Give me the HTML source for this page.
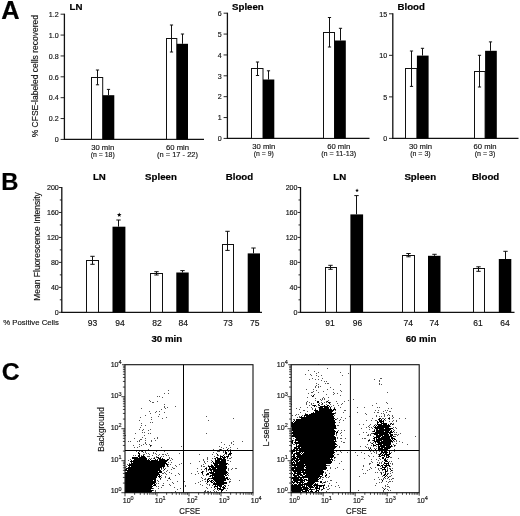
<!DOCTYPE html>
<html><head><meta charset="utf-8"><title>Figure</title>
<style>html,body{margin:0;padding:0;background:#fff;}svg{display:block;will-change:transform;}text{font-family:"Liberation Sans",sans-serif;}</style>
</head><body>
<svg width="520" height="516" viewBox="0 0 520 516">
<rect width="520" height="516" fill="#fff"/>
<text x="1.3" y="19.4" font-size="25.4" text-anchor="start" font-weight="bold" stroke="#000" stroke-width="0.2" fill="#000">A</text>
<text x="1.3" y="189.8" font-size="23.8" text-anchor="start" font-weight="bold" stroke="#000" stroke-width="0.2" fill="#000">B</text>
<text x="1.8" y="379.8" font-size="24.8" text-anchor="start" font-weight="bold" stroke="#000" stroke-width="0.2" fill="#000">C</text>
<line x1="64.4" y1="13.7" x2="64.4" y2="139.9" stroke="#111" stroke-width="1.3"/>
<line x1="63.900000000000006" y1="139.3" x2="204" y2="139.3" stroke="#111" stroke-width="1.3"/>
<line x1="60.60000000000001" y1="14.2" x2="64.4" y2="14.2" stroke="#111" stroke-width="0.9"/>
<text x="58.7" y="16.9" font-size="7.1" text-anchor="end" stroke="#111" stroke-width="0.15" fill="#111">1.2</text>
<line x1="60.60000000000001" y1="35.07" x2="64.4" y2="35.07" stroke="#111" stroke-width="0.9"/>
<text x="58.7" y="37.77" font-size="7.1" text-anchor="end" stroke="#111" stroke-width="0.15" fill="#111">1.0</text>
<line x1="60.60000000000001" y1="55.94" x2="64.4" y2="55.94" stroke="#111" stroke-width="0.9"/>
<text x="58.7" y="58.64" font-size="7.1" text-anchor="end" stroke="#111" stroke-width="0.15" fill="#111">0.8</text>
<line x1="60.60000000000001" y1="76.81" x2="64.4" y2="76.81" stroke="#111" stroke-width="0.9"/>
<text x="58.7" y="79.51" font-size="7.1" text-anchor="end" stroke="#111" stroke-width="0.15" fill="#111">0.6</text>
<line x1="60.60000000000001" y1="97.68" x2="64.4" y2="97.68" stroke="#111" stroke-width="0.9"/>
<text x="58.7" y="100.38000000000001" font-size="7.1" text-anchor="end" stroke="#111" stroke-width="0.15" fill="#111">0.4</text>
<line x1="60.60000000000001" y1="118.55000000000001" x2="64.4" y2="118.55000000000001" stroke="#111" stroke-width="0.9"/>
<text x="58.7" y="121.25000000000001" font-size="7.1" text-anchor="end" stroke="#111" stroke-width="0.15" fill="#111">0.2</text>
<line x1="60.60000000000001" y1="139.42" x2="64.4" y2="139.42" stroke="#111" stroke-width="0.9"/>
<text x="58.7" y="142.11999999999998" font-size="7.1" text-anchor="end" stroke="#111" stroke-width="0.15" fill="#111">0</text>
<text x="69.5" y="9.9" font-size="9.9" text-anchor="start" font-weight="bold" textLength="12.9" lengthAdjust="spacingAndGlyphs" stroke="#000" stroke-width="0.2" fill="#000">LN</text>
<rect x="91.5" y="77.5" width="11.200000000000003" height="61.80000000000001" fill="#fff" stroke="#111" stroke-width="1"/>
<rect x="102.7" y="95.2" width="11.599999999999994" height="44.10000000000001" fill="#000"/>
<line x1="97.5" y1="70" x2="97.5" y2="84.8" stroke="#111" stroke-width="1"/>
<line x1="95.9" y1="70" x2="99.1" y2="70" stroke="#111" stroke-width="1"/>
<line x1="95.9" y1="84.8" x2="99.1" y2="84.8" stroke="#111" stroke-width="1"/>
<line x1="108.5" y1="89.4" x2="108.5" y2="95.2" stroke="#111" stroke-width="1"/>
<line x1="106.9" y1="89.4" x2="110.1" y2="89.4" stroke="#111" stroke-width="1"/>
<rect x="166.5" y="38.5" width="10.300000000000011" height="100.80000000000001" fill="#fff" stroke="#111" stroke-width="1"/>
<rect x="176.8" y="43.8" width="11.199999999999989" height="95.50000000000001" fill="#000"/>
<line x1="171.5" y1="25" x2="171.5" y2="52" stroke="#111" stroke-width="1"/>
<line x1="169.9" y1="25" x2="173.1" y2="25" stroke="#111" stroke-width="1"/>
<line x1="169.9" y1="52" x2="173.1" y2="52" stroke="#111" stroke-width="1"/>
<line x1="182.5" y1="34" x2="182.5" y2="43.8" stroke="#111" stroke-width="1"/>
<line x1="180.9" y1="34" x2="184.1" y2="34" stroke="#111" stroke-width="1"/>
<text x="102.7" y="149.5" font-size="8" text-anchor="middle" textLength="23" lengthAdjust="spacingAndGlyphs" stroke="#111" stroke-width="0.15" fill="#111">30 min</text>
<text x="102.7" y="156.8" font-size="8" text-anchor="middle" textLength="24" lengthAdjust="spacingAndGlyphs" stroke="#111" stroke-width="0.15" fill="#111">(n = 18)</text>
<text x="177.5" y="149.5" font-size="8" text-anchor="middle" textLength="23" lengthAdjust="spacingAndGlyphs" stroke="#111" stroke-width="0.15" fill="#111">60 min</text>
<text x="177.5" y="156.8" font-size="8" text-anchor="middle" textLength="41" lengthAdjust="spacingAndGlyphs" stroke="#111" stroke-width="0.15" fill="#111">(n = 17 - 22)</text>
<line x1="227.4" y1="12.7" x2="227.4" y2="139.0" stroke="#111" stroke-width="1.3"/>
<line x1="226.9" y1="138.4" x2="369.5" y2="138.4" stroke="#111" stroke-width="1.3"/>
<line x1="223.6" y1="13.2" x2="227.4" y2="13.2" stroke="#111" stroke-width="0.9"/>
<text x="221.70000000000002" y="15.899999999999999" font-size="7.1" text-anchor="end" stroke="#111" stroke-width="0.15" fill="#111">6</text>
<line x1="223.6" y1="34.07" x2="227.4" y2="34.07" stroke="#111" stroke-width="0.9"/>
<text x="221.70000000000002" y="36.77" font-size="7.1" text-anchor="end" stroke="#111" stroke-width="0.15" fill="#111">5</text>
<line x1="223.6" y1="54.94" x2="227.4" y2="54.94" stroke="#111" stroke-width="0.9"/>
<text x="221.70000000000002" y="57.64" font-size="7.1" text-anchor="end" stroke="#111" stroke-width="0.15" fill="#111">4</text>
<line x1="223.6" y1="75.81" x2="227.4" y2="75.81" stroke="#111" stroke-width="0.9"/>
<text x="221.70000000000002" y="78.51" font-size="7.1" text-anchor="end" stroke="#111" stroke-width="0.15" fill="#111">3</text>
<line x1="223.6" y1="96.68" x2="227.4" y2="96.68" stroke="#111" stroke-width="0.9"/>
<text x="221.70000000000002" y="99.38000000000001" font-size="7.1" text-anchor="end" stroke="#111" stroke-width="0.15" fill="#111">2</text>
<line x1="223.6" y1="117.55000000000001" x2="227.4" y2="117.55000000000001" stroke="#111" stroke-width="0.9"/>
<text x="221.70000000000002" y="120.25000000000001" font-size="7.1" text-anchor="end" stroke="#111" stroke-width="0.15" fill="#111">1</text>
<line x1="223.6" y1="138.42" x2="227.4" y2="138.42" stroke="#111" stroke-width="0.9"/>
<text x="221.70000000000002" y="141.11999999999998" font-size="7.1" text-anchor="end" stroke="#111" stroke-width="0.15" fill="#111">0</text>
<text x="232" y="9.9" font-size="9.9" text-anchor="start" font-weight="bold" textLength="31.8" lengthAdjust="spacingAndGlyphs" stroke="#000" stroke-width="0.2" fill="#000">Spleen</text>
<rect x="251.5" y="68.5" width="11.5" height="69.9" fill="#fff" stroke="#111" stroke-width="1"/>
<rect x="263" y="79.5" width="11.300000000000011" height="58.900000000000006" fill="#000"/>
<line x1="257.5" y1="62" x2="257.5" y2="75.5" stroke="#111" stroke-width="1"/>
<line x1="255.9" y1="62" x2="259.1" y2="62" stroke="#111" stroke-width="1"/>
<line x1="255.9" y1="75.5" x2="259.1" y2="75.5" stroke="#111" stroke-width="1"/>
<line x1="268.5" y1="70.8" x2="268.5" y2="79.5" stroke="#111" stroke-width="1"/>
<line x1="266.9" y1="70.8" x2="270.1" y2="70.8" stroke="#111" stroke-width="1"/>
<rect x="323.5" y="32.5" width="11.0" height="105.9" fill="#fff" stroke="#111" stroke-width="1"/>
<rect x="334.5" y="40.5" width="11.300000000000011" height="97.9" fill="#000"/>
<line x1="329.5" y1="17.5" x2="329.5" y2="47" stroke="#111" stroke-width="1"/>
<line x1="327.9" y1="17.5" x2="331.1" y2="17.5" stroke="#111" stroke-width="1"/>
<line x1="327.9" y1="47" x2="331.1" y2="47" stroke="#111" stroke-width="1"/>
<line x1="340.5" y1="28.3" x2="340.5" y2="40.5" stroke="#111" stroke-width="1"/>
<line x1="338.9" y1="28.3" x2="342.1" y2="28.3" stroke="#111" stroke-width="1"/>
<text x="263.8" y="148.6" font-size="8" text-anchor="middle" textLength="23" lengthAdjust="spacingAndGlyphs" stroke="#111" stroke-width="0.15" fill="#111">30 min</text>
<text x="263.8" y="155.9" font-size="8" text-anchor="middle" textLength="20" lengthAdjust="spacingAndGlyphs" stroke="#111" stroke-width="0.15" fill="#111">(n = 9)</text>
<text x="338.7" y="148.6" font-size="8" text-anchor="middle" textLength="23" lengthAdjust="spacingAndGlyphs" stroke="#111" stroke-width="0.15" fill="#111">60 min</text>
<text x="338.7" y="155.9" font-size="8" text-anchor="middle" textLength="35" lengthAdjust="spacingAndGlyphs" stroke="#111" stroke-width="0.15" fill="#111">(n = 11-13)</text>
<line x1="392.8" y1="13.3" x2="392.8" y2="139.0" stroke="#111" stroke-width="1.3"/>
<line x1="392.3" y1="138.4" x2="518.5" y2="138.4" stroke="#111" stroke-width="1.3"/>
<line x1="389.0" y1="13.8" x2="392.8" y2="13.8" stroke="#111" stroke-width="0.9"/>
<text x="387.1" y="16.5" font-size="7.1" text-anchor="end" stroke="#111" stroke-width="0.15" fill="#111">15</text>
<line x1="389.0" y1="55.33" x2="392.8" y2="55.33" stroke="#111" stroke-width="0.9"/>
<text x="387.1" y="58.03" font-size="7.1" text-anchor="end" stroke="#111" stroke-width="0.15" fill="#111">10</text>
<line x1="389.0" y1="96.86" x2="392.8" y2="96.86" stroke="#111" stroke-width="0.9"/>
<text x="387.1" y="99.56" font-size="7.1" text-anchor="end" stroke="#111" stroke-width="0.15" fill="#111">5</text>
<line x1="389.0" y1="138.39000000000001" x2="392.8" y2="138.39000000000001" stroke="#111" stroke-width="0.9"/>
<text x="387.1" y="141.09" font-size="7.1" text-anchor="end" stroke="#111" stroke-width="0.15" fill="#111">0</text>
<text x="397.5" y="9.9" font-size="9.9" text-anchor="start" font-weight="bold" textLength="27.4" lengthAdjust="spacingAndGlyphs" stroke="#000" stroke-width="0.2" fill="#000">Blood</text>
<rect x="405.5" y="68.5" width="11.399999999999977" height="69.9" fill="#fff" stroke="#111" stroke-width="1"/>
<rect x="416.9" y="55.6" width="11.700000000000045" height="82.80000000000001" fill="#000"/>
<line x1="411.5" y1="51" x2="411.5" y2="86.4" stroke="#111" stroke-width="1"/>
<line x1="409.9" y1="51" x2="413.1" y2="51" stroke="#111" stroke-width="1"/>
<line x1="409.9" y1="86.4" x2="413.1" y2="86.4" stroke="#111" stroke-width="1"/>
<line x1="422.5" y1="48.3" x2="422.5" y2="55.6" stroke="#111" stroke-width="1"/>
<line x1="420.9" y1="48.3" x2="424.1" y2="48.3" stroke="#111" stroke-width="1"/>
<rect x="474.5" y="71.5" width="10.600000000000023" height="66.9" fill="#fff" stroke="#111" stroke-width="1"/>
<rect x="485.1" y="50.8" width="11.699999999999989" height="87.60000000000001" fill="#000"/>
<line x1="479.5" y1="55.3" x2="479.5" y2="87" stroke="#111" stroke-width="1"/>
<line x1="477.9" y1="55.3" x2="481.1" y2="55.3" stroke="#111" stroke-width="1"/>
<line x1="477.9" y1="87" x2="481.1" y2="87" stroke="#111" stroke-width="1"/>
<line x1="490.5" y1="41.9" x2="490.5" y2="50.8" stroke="#111" stroke-width="1"/>
<line x1="488.9" y1="41.9" x2="492.1" y2="41.9" stroke="#111" stroke-width="1"/>
<text x="420.4" y="148.6" font-size="8" text-anchor="middle" textLength="23" lengthAdjust="spacingAndGlyphs" stroke="#111" stroke-width="0.15" fill="#111">30 min</text>
<text x="420.4" y="155.9" font-size="8" text-anchor="middle" textLength="20.5" lengthAdjust="spacingAndGlyphs" stroke="#111" stroke-width="0.15" fill="#111">(n = 3)</text>
<text x="485" y="148.6" font-size="8" text-anchor="middle" textLength="23" lengthAdjust="spacingAndGlyphs" stroke="#111" stroke-width="0.15" fill="#111">60 min</text>
<text x="485" y="155.9" font-size="8" text-anchor="middle" textLength="20.5" lengthAdjust="spacingAndGlyphs" stroke="#111" stroke-width="0.15" fill="#111">(n = 3)</text>
<text x="38.5" y="76.2" font-size="8.6" text-anchor="middle" textLength="122.3" lengthAdjust="spacingAndGlyphs" transform="rotate(-90 38.5 76.2)" stroke="#111" stroke-width="0.15" fill="#111">% CFSE-labeled cells recovered</text>
<line x1="61.8" y1="187" x2="61.8" y2="312.90000000000003" stroke="#111" stroke-width="1.3"/>
<line x1="61.3" y1="312.3" x2="262" y2="312.3" stroke="#111" stroke-width="1.3"/>
<line x1="59.0" y1="187.5" x2="61.8" y2="187.5" stroke="#111" stroke-width="0.9"/>
<text x="58.8" y="190.1" font-size="7.1" text-anchor="end" stroke="#111" stroke-width="0.15" fill="#111">200</text>
<line x1="59.8" y1="199.98" x2="61.8" y2="199.98" stroke="#111" stroke-width="0.9"/>
<line x1="59.0" y1="212.46" x2="61.8" y2="212.46" stroke="#111" stroke-width="0.9"/>
<text x="58.8" y="215.06" font-size="7.1" text-anchor="end" stroke="#111" stroke-width="0.15" fill="#111">160</text>
<line x1="59.8" y1="224.94" x2="61.8" y2="224.94" stroke="#111" stroke-width="0.9"/>
<line x1="59.0" y1="237.42000000000002" x2="61.8" y2="237.42000000000002" stroke="#111" stroke-width="0.9"/>
<text x="58.8" y="240.02" font-size="7.1" text-anchor="end" stroke="#111" stroke-width="0.15" fill="#111">120</text>
<line x1="59.8" y1="249.9" x2="61.8" y2="249.9" stroke="#111" stroke-width="0.9"/>
<line x1="59.0" y1="262.38" x2="61.8" y2="262.38" stroke="#111" stroke-width="0.9"/>
<text x="58.8" y="264.98" font-size="7.1" text-anchor="end" stroke="#111" stroke-width="0.15" fill="#111">80</text>
<line x1="59.8" y1="274.86" x2="61.8" y2="274.86" stroke="#111" stroke-width="0.9"/>
<line x1="59.0" y1="287.34000000000003" x2="61.8" y2="287.34000000000003" stroke="#111" stroke-width="0.9"/>
<text x="58.8" y="289.94000000000005" font-size="7.1" text-anchor="end" stroke="#111" stroke-width="0.15" fill="#111">40</text>
<line x1="59.8" y1="299.82000000000005" x2="61.8" y2="299.82000000000005" stroke="#111" stroke-width="0.9"/>
<line x1="59.0" y1="312.3" x2="61.8" y2="312.3" stroke="#111" stroke-width="0.9"/>
<text x="58.8" y="314.90000000000003" font-size="7.1" text-anchor="end" stroke="#111" stroke-width="0.15" fill="#111">0</text>
<text x="99.4" y="180.3" font-size="9.9" text-anchor="middle" font-weight="bold" textLength="12.9" lengthAdjust="spacingAndGlyphs" stroke="#000" stroke-width="0.2" fill="#000">LN</text>
<text x="161" y="180.3" font-size="9.9" text-anchor="middle" font-weight="bold" textLength="31.8" lengthAdjust="spacingAndGlyphs" stroke="#000" stroke-width="0.2" fill="#000">Spleen</text>
<text x="239.5" y="180.3" font-size="9.9" text-anchor="middle" font-weight="bold" textLength="27.4" lengthAdjust="spacingAndGlyphs" stroke="#000" stroke-width="0.2" fill="#000">Blood</text>
<rect x="86.5" y="260.5" width="12.0" height="51.80000000000001" fill="#fff" stroke="#111" stroke-width="1"/>
<line x1="92.5" y1="256.3" x2="92.5" y2="264.3" stroke="#111" stroke-width="1"/>
<line x1="90.3" y1="256.3" x2="94.7" y2="256.3" stroke="#111" stroke-width="1"/>
<line x1="90.3" y1="264.3" x2="94.7" y2="264.3" stroke="#111" stroke-width="1"/>
<rect x="112.5" y="226.7" width="12.900000000000006" height="85.60000000000002" fill="#000"/>
<line x1="118.5" y1="220" x2="118.5" y2="226.7" stroke="#111" stroke-width="1"/>
<line x1="116.3" y1="220" x2="120.7" y2="220" stroke="#111" stroke-width="1"/>
<polygon points="119.25,212.50 119.84,214.08 121.53,214.16 120.21,215.21 120.66,216.84 119.25,215.91 117.84,216.84 118.29,215.21 116.97,214.16 118.66,214.08" fill="#000"/>
<rect x="150.5" y="273.5" width="12.0" height="38.80000000000001" fill="#fff" stroke="#111" stroke-width="1"/>
<line x1="156.5" y1="271.7" x2="156.5" y2="275" stroke="#111" stroke-width="1"/>
<line x1="154.3" y1="271.7" x2="158.7" y2="271.7" stroke="#111" stroke-width="1"/>
<line x1="154.3" y1="275" x2="158.7" y2="275" stroke="#111" stroke-width="1"/>
<rect x="176.3" y="272.5" width="12.399999999999977" height="39.80000000000001" fill="#000"/>
<line x1="182.5" y1="270.6" x2="182.5" y2="272.5" stroke="#111" stroke-width="1"/>
<line x1="180.3" y1="270.6" x2="184.7" y2="270.6" stroke="#111" stroke-width="1"/>
<rect x="222.5" y="244.5" width="11.0" height="67.80000000000001" fill="#fff" stroke="#111" stroke-width="1"/>
<line x1="227.5" y1="231.3" x2="227.5" y2="250.4" stroke="#111" stroke-width="1"/>
<line x1="225.3" y1="231.3" x2="229.7" y2="231.3" stroke="#111" stroke-width="1"/>
<line x1="225.3" y1="250.4" x2="229.7" y2="250.4" stroke="#111" stroke-width="1"/>
<rect x="247.7" y="253.4" width="12.300000000000011" height="58.900000000000006" fill="#000"/>
<line x1="253.5" y1="248" x2="253.5" y2="253.4" stroke="#111" stroke-width="1"/>
<line x1="251.3" y1="248" x2="255.7" y2="248" stroke="#111" stroke-width="1"/>
<text x="92.5" y="326.1" font-size="8.5" text-anchor="middle" stroke="#111" stroke-width="0.15" fill="#111">93</text>
<text x="120" y="326.1" font-size="8.5" text-anchor="middle" stroke="#111" stroke-width="0.15" fill="#111">94</text>
<text x="157" y="326.1" font-size="8.5" text-anchor="middle" stroke="#111" stroke-width="0.15" fill="#111">82</text>
<text x="183.3" y="326.1" font-size="8.5" text-anchor="middle" stroke="#111" stroke-width="0.15" fill="#111">84</text>
<text x="228" y="326.1" font-size="8.5" text-anchor="middle" stroke="#111" stroke-width="0.15" fill="#111">73</text>
<text x="254.7" y="326.1" font-size="8.5" text-anchor="middle" stroke="#111" stroke-width="0.15" fill="#111">75</text>
<text x="166.8" y="342.1" font-size="9.7" text-anchor="middle" font-weight="bold" stroke="#000" stroke-width="0.2" fill="#000">30 min</text>
<line x1="300.5" y1="187" x2="300.5" y2="312.90000000000003" stroke="#111" stroke-width="1.3"/>
<line x1="300.0" y1="312.3" x2="514.5" y2="312.3" stroke="#111" stroke-width="1.3"/>
<line x1="297.7" y1="187.5" x2="300.5" y2="187.5" stroke="#111" stroke-width="0.9"/>
<text x="297.5" y="190.1" font-size="7.1" text-anchor="end" stroke="#111" stroke-width="0.15" fill="#111">200</text>
<line x1="298.5" y1="199.98" x2="300.5" y2="199.98" stroke="#111" stroke-width="0.9"/>
<line x1="297.7" y1="212.46" x2="300.5" y2="212.46" stroke="#111" stroke-width="0.9"/>
<text x="297.5" y="215.06" font-size="7.1" text-anchor="end" stroke="#111" stroke-width="0.15" fill="#111">160</text>
<line x1="298.5" y1="224.94" x2="300.5" y2="224.94" stroke="#111" stroke-width="0.9"/>
<line x1="297.7" y1="237.42000000000002" x2="300.5" y2="237.42000000000002" stroke="#111" stroke-width="0.9"/>
<text x="297.5" y="240.02" font-size="7.1" text-anchor="end" stroke="#111" stroke-width="0.15" fill="#111">120</text>
<line x1="298.5" y1="249.9" x2="300.5" y2="249.9" stroke="#111" stroke-width="0.9"/>
<line x1="297.7" y1="262.38" x2="300.5" y2="262.38" stroke="#111" stroke-width="0.9"/>
<text x="297.5" y="264.98" font-size="7.1" text-anchor="end" stroke="#111" stroke-width="0.15" fill="#111">80</text>
<line x1="298.5" y1="274.86" x2="300.5" y2="274.86" stroke="#111" stroke-width="0.9"/>
<line x1="297.7" y1="287.34000000000003" x2="300.5" y2="287.34000000000003" stroke="#111" stroke-width="0.9"/>
<text x="297.5" y="289.94000000000005" font-size="7.1" text-anchor="end" stroke="#111" stroke-width="0.15" fill="#111">40</text>
<line x1="298.5" y1="299.82000000000005" x2="300.5" y2="299.82000000000005" stroke="#111" stroke-width="0.9"/>
<line x1="297.7" y1="312.3" x2="300.5" y2="312.3" stroke="#111" stroke-width="0.9"/>
<text x="297.5" y="314.90000000000003" font-size="7.1" text-anchor="end" stroke="#111" stroke-width="0.15" fill="#111">0</text>
<text x="339.8" y="180.3" font-size="9.9" text-anchor="middle" font-weight="bold" textLength="12.9" lengthAdjust="spacingAndGlyphs" stroke="#000" stroke-width="0.2" fill="#000">LN</text>
<text x="420.3" y="180.3" font-size="9.9" text-anchor="middle" font-weight="bold" textLength="31.8" lengthAdjust="spacingAndGlyphs" stroke="#000" stroke-width="0.2" fill="#000">Spleen</text>
<text x="485.6" y="180.3" font-size="9.9" text-anchor="middle" font-weight="bold" textLength="27.4" lengthAdjust="spacingAndGlyphs" stroke="#000" stroke-width="0.2" fill="#000">Blood</text>
<rect x="325.5" y="267.5" width="11.0" height="44.80000000000001" fill="#fff" stroke="#111" stroke-width="1"/>
<line x1="330.5" y1="265.3" x2="330.5" y2="269.3" stroke="#111" stroke-width="1"/>
<line x1="328.3" y1="265.3" x2="332.7" y2="265.3" stroke="#111" stroke-width="1"/>
<line x1="328.3" y1="269.3" x2="332.7" y2="269.3" stroke="#111" stroke-width="1"/>
<rect x="350.4" y="214.4" width="12.700000000000045" height="97.9" fill="#000"/>
<line x1="356.5" y1="195.6" x2="356.5" y2="214.4" stroke="#111" stroke-width="1"/>
<line x1="354.3" y1="195.6" x2="358.7" y2="195.6" stroke="#111" stroke-width="1"/>
<polygon points="357.05,188.60 357.52,189.85 358.86,189.91 357.81,190.75 358.17,192.04 357.05,191.30 355.93,192.04 356.29,190.75 355.24,189.91 356.58,189.85" fill="#000"/>
<rect x="402.5" y="255.5" width="12.0" height="56.80000000000001" fill="#fff" stroke="#111" stroke-width="1"/>
<line x1="408.5" y1="253.5" x2="408.5" y2="256.8" stroke="#111" stroke-width="1"/>
<line x1="406.3" y1="253.5" x2="410.7" y2="253.5" stroke="#111" stroke-width="1"/>
<line x1="406.3" y1="256.8" x2="410.7" y2="256.8" stroke="#111" stroke-width="1"/>
<rect x="428" y="255.8" width="12.5" height="56.5" fill="#000"/>
<line x1="434.5" y1="254.3" x2="434.5" y2="255.8" stroke="#111" stroke-width="1"/>
<line x1="432.3" y1="254.3" x2="436.7" y2="254.3" stroke="#111" stroke-width="1"/>
<rect x="473.5" y="268.5" width="11.0" height="43.80000000000001" fill="#fff" stroke="#111" stroke-width="1"/>
<line x1="478.5" y1="266.8" x2="478.5" y2="271.3" stroke="#111" stroke-width="1"/>
<line x1="476.3" y1="266.8" x2="480.7" y2="266.8" stroke="#111" stroke-width="1"/>
<line x1="476.3" y1="271.3" x2="480.7" y2="271.3" stroke="#111" stroke-width="1"/>
<rect x="498.8" y="259" width="12.5" height="53.30000000000001" fill="#000"/>
<line x1="505.5" y1="251.3" x2="505.5" y2="259" stroke="#111" stroke-width="1"/>
<line x1="503.3" y1="251.3" x2="507.7" y2="251.3" stroke="#111" stroke-width="1"/>
<text x="330" y="326.1" font-size="8.5" text-anchor="middle" stroke="#111" stroke-width="0.15" fill="#111">91</text>
<text x="357.5" y="326.1" font-size="8.5" text-anchor="middle" stroke="#111" stroke-width="0.15" fill="#111">96</text>
<text x="408.3" y="326.1" font-size="8.5" text-anchor="middle" stroke="#111" stroke-width="0.15" fill="#111">74</text>
<text x="434.3" y="326.1" font-size="8.5" text-anchor="middle" stroke="#111" stroke-width="0.15" fill="#111">74</text>
<text x="478" y="326.1" font-size="8.5" text-anchor="middle" stroke="#111" stroke-width="0.15" fill="#111">61</text>
<text x="505" y="326.1" font-size="8.5" text-anchor="middle" stroke="#111" stroke-width="0.15" fill="#111">64</text>
<text x="421" y="342.1" font-size="9.7" text-anchor="middle" font-weight="bold" stroke="#000" stroke-width="0.2" fill="#000">60 min</text>
<text x="40.2" y="246.5" font-size="8.6" text-anchor="middle" textLength="108.5" lengthAdjust="spacingAndGlyphs" transform="rotate(-90 40.2 246.5)" stroke="#111" stroke-width="0.15" fill="#111">Mean Fluorescence Intensity</text>
<text x="3.3" y="325.0" font-size="8.1" text-anchor="start" textLength="55.6" lengthAdjust="spacingAndGlyphs" stroke="#111" stroke-width="0.15" fill="#111">% Positive Cells</text>
<path d="M167.5 390.7h1M163.5 393.7h1M167.5 393.7h1M156.5 396.7h1M158.5 396.7h1M161.5 397.7h1M148.5 400.7h1M149.5 401.7h1M156.5 401.7h1M151.5 402.7h2M163.5 404.7h1M163.5 406.7h1M174.5 406.7h1M163.5 407.7h1M166.5 407.7h1M140.5 408.7h1M164.5 408.7h1M160.5 409.7h1M148.5 411.7h1M155.5 411.7h1M158.5 411.7h1M154.5 412.7h1M163.5 412.7h1M149.5 413.7h1M158.5 414.7h1M144.5 415.7h1M157.5 416.7h1M205.5 416.7h1M139.5 417.7h1M150.5 417.7h1M165.5 417.7h1M161.5 418.7h1M232.5 418.7h1M150.5 419.7h1M138.5 420.7h1M207.5 420.7h1M149.5 422.7h1M151.5 422.7h1M140.5 423.7h1M140.5 425.7h1M144.5 425.7h1M139.5 427.7h1M138.5 429.7h1M142.5 429.7h1M149.5 429.7h1M141.5 430.7h1M147.5 430.7h1M141.5 432.7h1M143.5 432.7h1M134.5 433.7h1M147.5 433.7h1M149.5 433.7h1M205.5 433.7h1M124.5 435.7h1M143.5 435.7h1M141.5 437.7h1M156.5 437.7h1M133.5 438.7h1M144.5 438.7h1M153.5 438.7h1M156.5 438.7h1M139.5 439.7h2M138.5 440.7h1M144.5 440.7h1M150.5 440.7h1M154.5 440.7h1M127.5 441.7h1M129.5 441.7h1M136.5 441.7h1M138.5 441.7h1M150.5 441.7h1M232.5 441.7h1M241.5 441.7h1M144.5 442.7h1M220.5 442.7h1M230.5 442.7h1M144.5 443.7h1M230.5 443.7h1M138.5 444.7h1M142.5 444.7h1M145.5 444.7h1M148.5 444.7h1M223.5 444.7h1M232.5 444.7h1M132.5 445.7h1M140.5 445.7h1M150.5 445.7h1M228.5 445.7h1M138.5 446.7h1M149.5 446.7h1M180.5 446.7h1M218.5 446.7h1M133.5 447.7h1M136.5 447.7h1M160.5 447.7h1M220.5 447.7h1M225.5 447.7h1M229.5 447.7h1M222.5 448.7h1M227.5 448.7h1M236.5 448.7h1M147.5 449.7h1M212.5 449.7h1M218.5 449.7h1M220.5 449.7h1M229.5 449.7h1M134.5 450.7h1M142.5 450.7h1M199.5 450.7h1M232.5 450.7h1M135.5 451.7h1M138.5 451.7h1M140.5 451.7h1M144.5 451.7h1M155.5 451.7h1M163.5 451.7h1M216.5 451.7h3M222.5 451.7h1M227.5 451.7h1M142.5 452.7h1M144.5 452.7h1M152.5 452.7h1M212.5 452.7h1M222.5 452.7h1M145.5 453.7h1M147.5 453.7h1M152.5 453.7h1M154.5 453.7h1M166.5 453.7h1M178.5 453.7h1M215.5 453.7h1M142.5 454.7h2M148.5 454.7h1M155.5 454.7h1M158.5 454.7h1M161.5 454.7h2M164.5 454.7h1M198.5 454.7h1M211.5 454.7h1M223.5 454.7h1M225.5 454.7h1M132.5 455.7h1M134.5 455.7h1M140.5 455.7h1M151.5 455.7h1M157.5 455.7h1M165.5 455.7h1M167.5 455.7h1M216.5 455.7h2M219.5 455.7h1M229.5 455.7h1M146.5 456.7h3M155.5 456.7h1M160.5 456.7h1M162.5 456.7h1M213.5 456.7h1M153.5 457.7h1M155.5 457.7h1M168.5 457.7h1M206.5 457.7h1M230.5 457.7h1M148.5 458.7h1M150.5 458.7h1M152.5 458.7h1M168.5 458.7h1M170.5 458.7h1M206.5 458.7h1M211.5 458.7h1M213.5 458.7h1M226.5 458.7h1M228.5 458.7h2M129.5 459.7h1M171.5 459.7h1M202.5 459.7h1M206.5 459.7h1M127.5 460.7h1M169.5 460.7h1M202.5 460.7h1M210.5 460.7h1M226.5 460.7h2M198.5 461.7h1M203.5 461.7h1M206.5 461.7h1M229.5 461.7h1M167.5 462.7h1M170.5 462.7h1M203.5 462.7h1M210.5 462.7h1M128.5 463.7h1M180.5 463.7h1M189.5 463.7h1M204.5 463.7h1M126.5 464.7h1M167.5 464.7h1M169.5 464.7h1M178.5 464.7h1M202.5 464.7h1M210.5 464.7h1M227.5 464.7h1M174.5 465.7h1M200.5 465.7h1M207.5 465.7h1M125.5 466.7h1M166.5 466.7h2M175.5 466.7h1M200.5 466.7h1M202.5 466.7h2M124.5 467.7h1M171.5 467.7h1M205.5 467.7h1M162.5 468.7h1M164.5 468.7h1M172.5 468.7h2M196.5 468.7h1M227.5 468.7h1M231.5 468.7h1M234.5 468.7h2M160.5 469.7h1M170.5 469.7h1M200.5 469.7h1M203.5 469.7h1M227.5 469.7h1M230.5 469.7h1M162.5 470.7h1M166.5 470.7h1M205.5 470.7h1M207.5 470.7h1M227.5 470.7h1M165.5 471.7h1M196.5 471.7h1M202.5 471.7h1M205.5 471.7h1M163.5 472.7h1M168.5 472.7h1M161.5 473.7h2M164.5 473.7h1M170.5 473.7h1M177.5 473.7h1M190.5 473.7h1M197.5 473.7h1M227.5 473.7h1M165.5 474.7h1M178.5 474.7h1M194.5 474.7h1M201.5 474.7h1M160.5 475.7h1M174.5 475.7h1M202.5 475.7h1M205.5 475.7h1M227.5 475.7h1M164.5 476.7h1M208.5 476.7h1M160.5 477.7h1M164.5 477.7h1M168.5 477.7h1M200.5 477.7h1M167.5 478.7h1M201.5 478.7h1M204.5 478.7h1M209.5 478.7h1M228.5 478.7h1M159.5 479.7h1M169.5 479.7h1M203.5 479.7h2M229.5 479.7h1M156.5 480.7h1M166.5 480.7h1M201.5 480.7h1M238.5 480.7h1M157.5 481.7h1M176.5 481.7h1M183.5 481.7h1M199.5 481.7h1M204.5 481.7h1M228.5 481.7h2M171.5 482.7h1M197.5 482.7h1M228.5 482.7h1M155.5 483.7h1M157.5 483.7h1M162.5 483.7h1M172.5 483.7h1M194.5 483.7h1M205.5 483.7h1M168.5 484.7h1M199.5 484.7h1M206.5 484.7h1M208.5 484.7h1M161.5 485.7h2M169.5 485.7h1M184.5 485.7h1M201.5 485.7h1M208.5 485.7h1M211.5 485.7h1M224.5 485.7h1M227.5 485.7h1M155.5 486.7h1M157.5 486.7h1M184.5 486.7h1M160.5 487.7h1M173.5 487.7h1M205.5 487.7h1M210.5 487.7h1M152.5 488.7h1M157.5 488.7h1M179.5 488.7h1M206.5 488.7h1M214.5 488.7h1M224.5 488.7h1M226.5 488.7h1M176.5 489.7h1M213.5 489.7h1M152.5 490.7h1M154.5 490.7h1M204.5 490.7h1M212.5 490.7h1M217.5 490.7h1M225.5 490.7h1M154.5 491.7h1M174.5 491.7h1M203.5 491.7h2M206.5 491.7h2M209.5 491.7h1M213.5 491.7h1M215.5 491.7h1M157.5 492.7h1M170.5 492.7h1M210.5 492.7h1M216.5 492.7h1M220.5 492.7h1M223.5 492.7h1" stroke="#555" stroke-width="1" fill="none" shape-rendering="crispEdges"/>
<path d="M149.5 445.7h1M219.5 449.7h1M226.5 449.7h1M219.5 450.7h1M225.5 450.7h2M228.5 450.7h2M141.5 451.7h1M224.5 451.7h1M229.5 451.7h1M137.5 452.7h1M224.5 452.7h2M229.5 452.7h1M137.5 453.7h2M224.5 453.7h2M228.5 453.7h3M138.5 454.7h1M216.5 454.7h1M227.5 454.7h3M137.5 455.7h2M142.5 455.7h1M222.5 455.7h1M227.5 455.7h1M137.5 456.7h2M140.5 456.7h4M219.5 456.7h3M223.5 456.7h1M225.5 456.7h3M131.5 457.7h6M138.5 457.7h7M156.5 457.7h2M159.5 457.7h1M215.5 457.7h2M219.5 457.7h1M221.5 457.7h4M226.5 457.7h1M131.5 458.7h15M153.5 458.7h1M157.5 458.7h3M161.5 458.7h1M214.5 458.7h1M216.5 458.7h5M222.5 458.7h2M133.5 459.7h13M147.5 459.7h1M149.5 459.7h1M154.5 459.7h1M156.5 459.7h1M158.5 459.7h6M166.5 459.7h2M214.5 459.7h1M216.5 459.7h9M130.5 460.7h1M132.5 460.7h17M150.5 460.7h7M158.5 460.7h9M214.5 460.7h5M220.5 460.7h5M129.5 461.7h37M211.5 461.7h1M214.5 461.7h11M130.5 462.7h1M132.5 462.7h33M212.5 462.7h1M214.5 462.7h11M130.5 463.7h36M212.5 463.7h15M128.5 464.7h36M165.5 464.7h2M213.5 464.7h4M218.5 464.7h8M127.5 465.7h37M166.5 465.7h1M210.5 465.7h2M213.5 465.7h12M128.5 466.7h1M130.5 466.7h34M207.5 466.7h6M214.5 466.7h12M127.5 467.7h34M162.5 467.7h1M208.5 467.7h1M210.5 467.7h16M125.5 468.7h34M160.5 468.7h1M204.5 468.7h2M208.5 468.7h2M211.5 468.7h4M216.5 468.7h10M124.5 469.7h2M127.5 469.7h32M163.5 469.7h1M205.5 469.7h1M207.5 469.7h18M124.5 470.7h36M209.5 470.7h2M212.5 470.7h13M126.5 471.7h31M158.5 471.7h3M201.5 471.7h1M210.5 471.7h1M212.5 471.7h14M124.5 472.7h37M200.5 472.7h2M208.5 472.7h5M214.5 472.7h13M124.5 473.7h34M201.5 473.7h1M206.5 473.7h2M209.5 473.7h17M124.5 474.7h35M205.5 474.7h3M211.5 474.7h14M226.5 474.7h1M124.5 475.7h33M158.5 475.7h1M209.5 475.7h14M224.5 475.7h2M124.5 476.7h32M157.5 476.7h3M209.5 476.7h1M211.5 476.7h1M213.5 476.7h11M124.5 477.7h32M158.5 477.7h1M211.5 477.7h13M225.5 477.7h2M124.5 478.7h31M159.5 478.7h1M168.5 478.7h1M207.5 478.7h2M210.5 478.7h17M124.5 479.7h31M206.5 479.7h2M212.5 479.7h13M226.5 479.7h2M124.5 480.7h28M153.5 480.7h2M206.5 480.7h1M208.5 480.7h1M210.5 480.7h2M213.5 480.7h12M124.5 481.7h31M206.5 481.7h2M209.5 481.7h2M212.5 481.7h1M214.5 481.7h9M124.5 482.7h31M206.5 482.7h1M210.5 482.7h2M213.5 482.7h1M215.5 482.7h11M124.5 483.7h30M212.5 483.7h14M124.5 484.7h28M153.5 484.7h2M212.5 484.7h11M124.5 485.7h27M152.5 485.7h3M214.5 485.7h1M216.5 485.7h5M223.5 485.7h1M124.5 486.7h28M213.5 486.7h4M218.5 486.7h3M222.5 486.7h1M224.5 486.7h1M124.5 487.7h27M213.5 487.7h1M216.5 487.7h1M219.5 487.7h1M221.5 487.7h3M124.5 488.7h28M216.5 488.7h4M222.5 488.7h2M124.5 489.7h26M216.5 489.7h1M218.5 489.7h5M124.5 490.7h28M220.5 490.7h2M124.5 491.7h27M220.5 491.7h1M124.5 492.7h26" stroke="#000" stroke-width="1" fill="none" shape-rendering="crispEdges"/>
<path d="M317.7 364.7h1M326.7 368.7h1M307.7 370.7h1M313.7 371.7h1M317.7 372.7h1M339.7 372.7h1M315.7 373.7h1M347.7 373.7h1M304.7 374.7h1M309.7 374.7h1M310.7 375.7h1M315.7 375.7h1M320.7 375.7h1M341.7 375.7h1M317.7 376.7h1M311.7 378.7h1M321.7 378.7h1M379.7 378.7h2M308.7 379.7h1M314.7 379.7h1M317.7 379.7h1M373.7 379.7h1M320.7 380.7h1M378.7 380.7h1M323.7 381.7h1M325.7 381.7h1M378.7 381.7h1M315.7 383.7h1M324.7 383.7h1M326.7 383.7h2M378.7 383.7h1M317.7 384.7h1M339.7 384.7h1M378.7 384.7h1M380.7 384.7h1M315.7 385.7h1M314.7 386.7h1M317.7 386.7h1M319.7 386.7h1M314.7 387.7h1M317.7 387.7h1M329.7 387.7h1M305.7 389.7h1M312.7 389.7h1M326.7 389.7h1M332.7 389.7h1M315.7 390.7h1M339.7 390.7h1M312.7 391.7h1M322.7 391.7h1M340.7 391.7h1M310.7 392.7h2M317.7 392.7h1M332.7 392.7h1M386.7 392.7h1M307.7 393.7h1M333.7 393.7h1M336.7 393.7h1M313.7 394.7h1M325.7 394.7h1M332.7 394.7h1M310.7 395.7h1M339.7 395.7h1M312.7 396.7h1M306.7 397.7h1M322.7 397.7h1M327.7 397.7h1M314.7 398.7h1M321.7 398.7h1M323.7 398.7h1M319.7 399.7h1M321.7 399.7h1M323.7 399.7h1M352.7 399.7h1M314.7 400.7h1M320.7 400.7h1M327.7 400.7h1M347.7 400.7h1M306.7 401.7h1M325.7 401.7h1M335.7 401.7h1M343.7 401.7h1M305.7 402.7h1M308.7 402.7h1M320.7 402.7h1M323.7 402.7h1M325.7 402.7h1M329.7 402.7h1M385.7 402.7h1M305.7 403.7h1M310.7 403.7h1M312.7 403.7h1M318.7 403.7h1M336.7 403.7h1M341.7 403.7h1M375.7 403.7h1M386.7 403.7h1M290.7 404.7h1M305.7 404.7h1M310.7 404.7h1M320.7 404.7h2M325.7 404.7h1M329.7 404.7h1M340.7 404.7h1M308.7 405.7h1M311.7 405.7h1M317.7 405.7h1M332.7 405.7h1M337.7 405.7h1M371.7 405.7h1M315.7 406.7h1M330.7 406.7h1M299.7 407.7h1M306.7 407.7h1M310.7 407.7h1M317.7 407.7h1M333.7 407.7h1M339.7 407.7h1M356.7 407.7h1M363.7 407.7h1M376.7 407.7h1M378.7 407.7h1M295.7 408.7h1M311.7 408.7h1M314.7 408.7h1M387.7 408.7h1M390.7 408.7h1M298.7 409.7h1M311.7 409.7h1M302.7 410.7h2M334.7 410.7h1M343.7 410.7h2M374.7 410.7h1M377.7 410.7h1M384.7 410.7h1M386.7 410.7h1M306.7 411.7h1M382.7 411.7h1M388.7 411.7h2M299.7 412.7h1M334.7 412.7h1M342.7 412.7h1M356.7 412.7h1M373.7 412.7h1M376.7 412.7h2M385.7 412.7h1M304.7 413.7h1M334.7 413.7h1M364.7 413.7h1M380.7 413.7h1M382.7 413.7h1M295.7 414.7h1M297.7 414.7h1M365.7 414.7h1M383.7 414.7h1M387.7 414.7h1M291.7 415.7h1M294.7 415.7h1M301.7 415.7h1M333.7 415.7h1M375.7 415.7h1M383.7 415.7h1M386.7 415.7h1M388.7 415.7h1M391.7 415.7h1M298.7 416.7h1M348.7 416.7h1M375.7 416.7h1M378.7 416.7h1M380.7 416.7h1M383.7 416.7h1M391.7 416.7h1M296.7 417.7h1M298.7 417.7h1M340.7 417.7h1M388.7 417.7h1M392.7 417.7h1M336.7 418.7h1M344.7 418.7h1M371.7 418.7h1M381.7 418.7h2M384.7 418.7h1M391.7 418.7h1M398.7 418.7h1M404.7 418.7h1M292.7 419.7h2M335.7 419.7h1M339.7 419.7h1M388.7 419.7h1M338.7 420.7h1M342.7 420.7h1M365.7 420.7h1M370.7 420.7h1M374.7 420.7h2M384.7 420.7h1M392.7 420.7h1M395.7 420.7h1M388.7 421.7h1M391.7 421.7h1M395.7 421.7h1M338.7 422.7h1M389.7 423.7h1M392.7 423.7h1M358.7 424.7h1M362.7 424.7h1M369.7 424.7h1M374.7 424.7h1M392.7 424.7h1M336.7 425.7h2M368.7 425.7h1M367.7 426.7h1M372.7 426.7h1M389.7 426.7h1M365.7 427.7h1M368.7 427.7h1M370.7 427.7h1M392.7 427.7h1M394.7 427.7h1M335.7 428.7h1M360.7 428.7h1M371.7 428.7h1M395.7 428.7h1M368.7 429.7h1M373.7 429.7h1M392.7 429.7h1M337.7 430.7h1M340.7 430.7h1M343.7 430.7h1M393.7 430.7h1M371.7 431.7h1M340.7 432.7h1M362.7 432.7h1M365.7 432.7h1M393.7 432.7h1M395.7 432.7h1M290.7 433.7h1M339.7 433.7h1M370.7 433.7h2M399.7 433.7h1M335.7 434.7h1M358.7 434.7h1M367.7 434.7h1M369.7 434.7h1M393.7 434.7h3M397.7 434.7h1M335.7 435.7h1M340.7 435.7h1M366.7 435.7h2M369.7 435.7h1M396.7 435.7h1M290.7 436.7h1M372.7 436.7h1M393.7 436.7h2M414.7 436.7h1M336.7 437.7h1M292.7 438.7h1M336.7 438.7h1M339.7 438.7h2M344.7 438.7h1M361.7 438.7h1M363.7 438.7h2M290.7 439.7h1M368.7 439.7h1M292.7 440.7h1M371.7 440.7h1M395.7 440.7h1M335.7 441.7h1M340.7 441.7h1M367.7 441.7h1M393.7 441.7h1M395.7 441.7h1M398.7 441.7h1M342.7 442.7h2M369.7 442.7h1M372.7 442.7h1M391.7 442.7h1M401.7 442.7h1M370.7 443.7h1M374.7 443.7h1M395.7 443.7h1M292.7 444.7h2M366.7 444.7h1M392.7 444.7h1M406.7 444.7h1M290.7 445.7h1M336.7 445.7h1M370.7 445.7h1M394.7 445.7h1M290.7 446.7h1M338.7 446.7h1M359.7 446.7h1M364.7 446.7h1M372.7 446.7h1M375.7 446.7h1M391.7 446.7h1M393.7 446.7h1M338.7 447.7h1M365.7 447.7h1M367.7 447.7h1M369.7 447.7h1M367.7 448.7h1M373.7 448.7h1M375.7 448.7h1M290.7 449.7h1M370.7 449.7h1M393.7 449.7h1M334.7 450.7h1M373.7 450.7h1M389.7 450.7h1M391.7 450.7h1M335.7 451.7h1M339.7 451.7h1M369.7 451.7h1M372.7 451.7h1M375.7 451.7h1M378.7 451.7h1M393.7 451.7h1M340.7 452.7h1M346.7 452.7h1M354.7 452.7h1M360.7 452.7h1M373.7 452.7h1M375.7 452.7h1M390.7 452.7h1M363.7 453.7h1M370.7 453.7h1M375.7 453.7h1M290.7 454.7h1M333.7 454.7h1M336.7 454.7h2M377.7 454.7h1M356.7 455.7h1M367.7 455.7h1M290.7 456.7h1M368.7 456.7h1M372.7 456.7h1M377.7 456.7h1M334.7 457.7h1M389.7 457.7h2M333.7 458.7h1M363.7 458.7h1M378.7 458.7h1M397.7 458.7h1M370.7 459.7h1M375.7 459.7h1M379.7 459.7h1M386.7 459.7h1M333.7 460.7h1M377.7 460.7h1M340.7 461.7h1M370.7 461.7h1M381.7 461.7h1M388.7 461.7h1M390.7 461.7h1M371.7 462.7h1M376.7 462.7h1M378.7 462.7h1M380.7 462.7h1M338.7 463.7h1M368.7 463.7h2M378.7 463.7h1M380.7 463.7h1M389.7 463.7h1M391.7 463.7h1M368.7 464.7h1M391.7 464.7h1M326.7 465.7h3M362.7 465.7h1M290.7 466.7h1M362.7 466.7h1M379.7 466.7h1M389.7 466.7h1M329.7 467.7h1M336.7 467.7h1M369.7 467.7h1M374.7 467.7h1M386.7 467.7h1M329.7 468.7h1M334.7 468.7h1M370.7 468.7h1M377.7 468.7h1M379.7 468.7h1M386.7 468.7h1M388.7 468.7h2M391.7 468.7h1M342.7 469.7h1M361.7 469.7h1M368.7 469.7h1M377.7 469.7h1M386.7 469.7h1M326.7 470.7h1M366.7 470.7h1M378.7 470.7h1M381.7 470.7h1M391.7 470.7h1M386.7 471.7h1M389.7 471.7h1M290.7 472.7h1M324.7 472.7h1M374.7 472.7h1M376.7 472.7h1M379.7 472.7h2M382.7 472.7h1M391.7 472.7h1M324.7 473.7h1M328.7 473.7h1M362.7 473.7h1M364.7 473.7h1M386.7 473.7h2M389.7 473.7h1M290.7 474.7h1M380.7 474.7h1M390.7 475.7h1M328.7 476.7h1M358.7 476.7h1M381.7 476.7h1M386.7 476.7h1M388.7 476.7h2M321.7 477.7h2M325.7 477.7h1M327.7 477.7h1M377.7 477.7h1M319.7 478.7h1M382.7 478.7h1M384.7 478.7h1M386.7 478.7h1M391.7 478.7h2M290.7 479.7h1M321.7 479.7h1M373.7 479.7h1M378.7 479.7h1M380.7 479.7h1M382.7 479.7h1M388.7 479.7h1M390.7 479.7h1M329.7 480.7h2M290.7 481.7h1M317.7 481.7h1M324.7 481.7h1M326.7 481.7h1M381.7 481.7h1M385.7 481.7h1M388.7 481.7h2M391.7 481.7h1M322.7 482.7h1M324.7 482.7h1M335.7 482.7h1M378.7 482.7h1M380.7 482.7h1M387.7 482.7h1M290.7 483.7h1M316.7 483.7h1M321.7 483.7h1M328.7 483.7h1M375.7 483.7h1M323.7 484.7h1M386.7 484.7h1M327.7 485.7h1M330.7 485.7h1M337.7 485.7h1M374.7 485.7h1M384.7 485.7h1M327.7 486.7h1M334.7 486.7h1M384.7 486.7h1M386.7 486.7h2M325.7 487.7h1M338.7 487.7h1M381.7 487.7h1M388.7 487.7h1M323.7 488.7h1M328.7 488.7h1M382.7 488.7h1M384.7 488.7h1M312.7 489.7h2M320.7 489.7h1M326.7 489.7h2M386.7 489.7h1M320.7 490.7h1M357.7 490.7h1M382.7 490.7h1M387.7 490.7h1M389.7 490.7h1M325.7 491.7h1M382.7 491.7h1M290.7 492.7h1M308.7 492.7h1M313.7 492.7h1M318.7 492.7h1M322.7 492.7h1M328.7 492.7h1M386.7 492.7h1" stroke="#555" stroke-width="1" fill="none" shape-rendering="crispEdges"/>
<path d="M312.7 395.7h1M311.7 396.7h1M316.7 401.7h2M326.7 401.7h1M316.7 402.7h2M327.7 402.7h2M321.7 403.7h1M328.7 403.7h1M317.7 404.7h1M312.7 405.7h3M318.7 405.7h1M323.7 405.7h1M326.7 405.7h2M313.7 406.7h1M319.7 406.7h8M328.7 406.7h1M318.7 407.7h4M323.7 407.7h5M329.7 407.7h1M318.7 408.7h10M329.7 408.7h1M333.7 408.7h1M314.7 409.7h1M318.7 409.7h13M332.7 409.7h3M313.7 410.7h4M318.7 410.7h15M314.7 411.7h18M312.7 412.7h1M314.7 412.7h17M310.7 413.7h24M304.7 414.7h3M308.7 414.7h25M303.7 415.7h29M300.7 416.7h1M303.7 416.7h1M305.7 416.7h28M299.7 417.7h34M300.7 418.7h34M378.7 418.7h2M387.7 418.7h2M295.7 419.7h38M334.7 419.7h1M377.7 419.7h2M380.7 419.7h1M383.7 419.7h1M293.7 420.7h1M295.7 420.7h39M378.7 420.7h3M382.7 420.7h1M292.7 421.7h1M294.7 421.7h40M376.7 421.7h1M378.7 421.7h5M290.7 422.7h2M293.7 422.7h42M376.7 422.7h2M379.7 422.7h2M382.7 422.7h1M290.7 423.7h44M376.7 423.7h1M380.7 423.7h6M390.7 423.7h1M290.7 424.7h44M376.7 424.7h5M382.7 424.7h4M387.7 424.7h1M389.7 424.7h1M391.7 424.7h1M290.7 425.7h45M373.7 425.7h1M375.7 425.7h1M377.7 425.7h12M290.7 426.7h45M374.7 426.7h1M376.7 426.7h13M291.7 427.7h44M373.7 427.7h15M291.7 428.7h44M374.7 428.7h9M384.7 428.7h8M291.7 429.7h42M375.7 429.7h2M378.7 429.7h12M291.7 430.7h43M373.7 430.7h1M375.7 430.7h14M390.7 430.7h1M292.7 431.7h43M336.7 431.7h1M372.7 431.7h2M375.7 431.7h8M384.7 431.7h4M389.7 431.7h2M392.7 431.7h1M291.7 432.7h43M335.7 432.7h2M374.7 432.7h18M291.7 433.7h43M335.7 433.7h1M372.7 433.7h15M388.7 433.7h2M292.7 434.7h42M373.7 434.7h4M378.7 434.7h10M389.7 434.7h3M291.7 435.7h42M375.7 435.7h7M383.7 435.7h5M389.7 435.7h3M291.7 436.7h43M375.7 436.7h5M381.7 436.7h10M392.7 436.7h1M294.7 437.7h41M373.7 437.7h6M380.7 437.7h9M390.7 437.7h2M295.7 438.7h40M372.7 438.7h2M375.7 438.7h1M377.7 438.7h12M390.7 438.7h4M294.7 439.7h41M373.7 439.7h1M375.7 439.7h15M391.7 439.7h1M393.7 439.7h2M291.7 440.7h1M294.7 440.7h39M334.7 440.7h1M367.7 440.7h2M372.7 440.7h2M375.7 440.7h6M382.7 440.7h9M392.7 440.7h1M290.7 441.7h2M294.7 441.7h1M297.7 441.7h38M373.7 441.7h6M380.7 441.7h12M290.7 442.7h2M293.7 442.7h41M374.7 442.7h1M376.7 442.7h14M291.7 443.7h1M294.7 443.7h41M371.7 443.7h1M377.7 443.7h13M295.7 444.7h1M298.7 444.7h38M372.7 444.7h1M375.7 444.7h6M382.7 444.7h8M295.7 445.7h1M297.7 445.7h37M372.7 445.7h3M377.7 445.7h1M379.7 445.7h10M390.7 445.7h1M393.7 445.7h1M295.7 446.7h41M377.7 446.7h7M385.7 446.7h6M293.7 447.7h3M297.7 447.7h2M300.7 447.7h35M377.7 447.7h2M380.7 447.7h10M293.7 448.7h41M369.7 448.7h1M377.7 448.7h5M383.7 448.7h6M292.7 449.7h2M295.7 449.7h2M298.7 449.7h35M368.7 449.7h1M374.7 449.7h1M377.7 449.7h10M290.7 450.7h4M296.7 450.7h2M300.7 450.7h34M369.7 450.7h1M381.7 450.7h2M384.7 450.7h5M290.7 451.7h4M295.7 451.7h1M298.7 451.7h35M380.7 451.7h2M383.7 451.7h3M388.7 451.7h1M290.7 452.7h2M295.7 452.7h5M301.7 452.7h1M303.7 452.7h31M380.7 452.7h7M388.7 452.7h1M290.7 453.7h2M293.7 453.7h6M300.7 453.7h1M302.7 453.7h31M379.7 453.7h2M382.7 453.7h1M384.7 453.7h2M388.7 453.7h2M292.7 454.7h2M295.7 454.7h5M301.7 454.7h31M378.7 454.7h2M381.7 454.7h1M383.7 454.7h6M292.7 455.7h2M296.7 455.7h37M378.7 455.7h1M380.7 455.7h4M385.7 455.7h3M291.7 456.7h3M295.7 456.7h38M378.7 456.7h2M383.7 456.7h1M385.7 456.7h1M387.7 456.7h2M290.7 457.7h1M292.7 457.7h3M296.7 457.7h36M333.7 457.7h1M381.7 457.7h2M385.7 457.7h3M291.7 458.7h6M298.7 458.7h31M330.7 458.7h1M381.7 458.7h2M384.7 458.7h1M290.7 459.7h4M295.7 459.7h37M383.7 459.7h2M290.7 460.7h2M293.7 460.7h5M299.7 460.7h31M331.7 460.7h1M383.7 460.7h3M290.7 461.7h1M292.7 461.7h1M294.7 461.7h3M298.7 461.7h33M384.7 461.7h3M290.7 462.7h4M295.7 462.7h36M383.7 462.7h1M387.7 462.7h1M290.7 463.7h2M293.7 463.7h1M295.7 463.7h35M383.7 463.7h5M290.7 464.7h13M304.7 464.7h21M376.7 464.7h2M382.7 464.7h1M385.7 464.7h1M387.7 464.7h1M291.7 465.7h35M376.7 465.7h3M380.7 465.7h2M383.7 465.7h6M293.7 466.7h2M296.7 466.7h8M305.7 466.7h20M381.7 466.7h1M384.7 466.7h2M388.7 466.7h1M291.7 467.7h12M304.7 467.7h22M381.7 467.7h4M290.7 468.7h13M305.7 468.7h21M380.7 468.7h1M383.7 468.7h1M290.7 469.7h3M294.7 469.7h31M381.7 469.7h4M389.7 469.7h1M291.7 470.7h31M384.7 470.7h1M386.7 470.7h1M390.7 470.7h1M292.7 471.7h8M301.7 471.7h2M304.7 471.7h19M384.7 471.7h2M293.7 472.7h2M296.7 472.7h27M384.7 472.7h1M291.7 473.7h1M293.7 473.7h7M302.7 473.7h20M380.7 473.7h1M384.7 473.7h1M292.7 474.7h2M296.7 474.7h5M302.7 474.7h2M305.7 474.7h17M325.7 474.7h1M383.7 474.7h2M386.7 474.7h1M292.7 475.7h6M299.7 475.7h3M304.7 475.7h15M321.7 475.7h1M324.7 475.7h2M382.7 475.7h2M385.7 475.7h1M293.7 476.7h3M297.7 476.7h2M301.7 476.7h20M324.7 476.7h1M384.7 476.7h1M291.7 477.7h27M319.7 477.7h1M383.7 477.7h1M387.7 477.7h1M290.7 478.7h8M299.7 478.7h2M302.7 478.7h1M307.7 478.7h10M318.7 478.7h1M292.7 479.7h10M303.7 479.7h3M307.7 479.7h11M292.7 480.7h12M305.7 480.7h12M381.7 480.7h1M291.7 481.7h1M293.7 481.7h4M299.7 481.7h3M303.7 481.7h1M307.7 481.7h10M319.7 481.7h2M291.7 482.7h3M295.7 482.7h8M306.7 482.7h8M319.7 482.7h2M323.7 482.7h1M292.7 483.7h1M296.7 483.7h1M298.7 483.7h2M301.7 483.7h1M303.7 483.7h10M314.7 483.7h1M291.7 484.7h1M293.7 484.7h3M297.7 484.7h15M313.7 484.7h4M290.7 485.7h12M303.7 485.7h1M305.7 485.7h6M312.7 485.7h12M290.7 486.7h10M301.7 486.7h3M305.7 486.7h1M307.7 486.7h5M313.7 486.7h1M315.7 486.7h2M318.7 486.7h3M322.7 486.7h1M290.7 487.7h17M308.7 487.7h5M314.7 487.7h3M318.7 487.7h1M322.7 487.7h1M290.7 488.7h11M302.7 488.7h6M309.7 488.7h1M314.7 488.7h5M322.7 488.7h1M290.7 489.7h17M308.7 489.7h4M315.7 489.7h1M318.7 489.7h1M321.7 489.7h1M383.7 489.7h1M290.7 490.7h12M304.7 490.7h4M310.7 490.7h1M315.7 490.7h3M291.7 491.7h9M301.7 491.7h5M307.7 491.7h1M309.7 491.7h3M314.7 491.7h2M317.7 491.7h1M291.7 492.7h10M305.7 492.7h2M311.7 492.7h2" stroke="#000" stroke-width="1" fill="none" shape-rendering="crispEdges"/>
<rect x="125" y="364.7" width="128" height="128" fill="none" stroke="#111" stroke-width="1.1"/>
<line x1="183.5" y1="364.7" x2="183.5" y2="492.7" stroke="#000" stroke-width="1"/>
<line x1="125" y1="450.5" x2="253" y2="450.5" stroke="#000" stroke-width="1"/>
<line x1="121.4" y1="492.7" x2="125" y2="492.7" stroke="#111" stroke-width="0.8"/>
<line x1="125.0" y1="492.7" x2="125.0" y2="496.3" stroke="#111" stroke-width="0.8"/>
<line x1="122.9" y1="483.0670401387526" x2="125" y2="483.0670401387526" stroke="#111" stroke-width="0.8"/>
<line x1="134.6329598612474" y1="492.7" x2="134.6329598612474" y2="494.8" stroke="#111" stroke-width="0.8"/>
<line x1="122.9" y1="477.4321198489708" x2="125" y2="477.4321198489708" stroke="#111" stroke-width="0.8"/>
<line x1="140.2678801510292" y1="492.7" x2="140.2678801510292" y2="494.8" stroke="#111" stroke-width="0.8"/>
<line x1="122.9" y1="473.4340802775052" x2="125" y2="473.4340802775052" stroke="#111" stroke-width="0.8"/>
<line x1="144.2659197224948" y1="492.7" x2="144.2659197224948" y2="494.8" stroke="#111" stroke-width="0.8"/>
<line x1="122.9" y1="470.3329598612474" x2="125" y2="470.3329598612474" stroke="#111" stroke-width="0.8"/>
<line x1="147.3670401387526" y1="492.7" x2="147.3670401387526" y2="494.8" stroke="#111" stroke-width="0.8"/>
<line x1="122.9" y1="467.7991599877234" x2="125" y2="467.7991599877234" stroke="#111" stroke-width="0.8"/>
<line x1="149.9008400122766" y1="492.7" x2="149.9008400122766" y2="494.8" stroke="#111" stroke-width="0.8"/>
<line x1="122.9" y1="465.65686271954377" x2="125" y2="465.65686271954377" stroke="#111" stroke-width="0.8"/>
<line x1="152.04313728045622" y1="492.7" x2="152.04313728045622" y2="494.8" stroke="#111" stroke-width="0.8"/>
<line x1="122.9" y1="463.8011204162578" x2="125" y2="463.8011204162578" stroke="#111" stroke-width="0.8"/>
<line x1="153.8988795837422" y1="492.7" x2="153.8988795837422" y2="494.8" stroke="#111" stroke-width="0.8"/>
<line x1="122.9" y1="462.1642396979416" x2="125" y2="462.1642396979416" stroke="#111" stroke-width="0.8"/>
<line x1="155.5357603020584" y1="492.7" x2="155.5357603020584" y2="494.8" stroke="#111" stroke-width="0.8"/>
<line x1="121.4" y1="460.7" x2="125" y2="460.7" stroke="#111" stroke-width="0.8"/>
<line x1="157.0" y1="492.7" x2="157.0" y2="496.3" stroke="#111" stroke-width="0.8"/>
<line x1="122.9" y1="451.0670401387526" x2="125" y2="451.0670401387526" stroke="#111" stroke-width="0.8"/>
<line x1="166.6329598612474" y1="492.7" x2="166.6329598612474" y2="494.8" stroke="#111" stroke-width="0.8"/>
<line x1="122.9" y1="445.4321198489708" x2="125" y2="445.4321198489708" stroke="#111" stroke-width="0.8"/>
<line x1="172.2678801510292" y1="492.7" x2="172.2678801510292" y2="494.8" stroke="#111" stroke-width="0.8"/>
<line x1="122.9" y1="441.4340802775052" x2="125" y2="441.4340802775052" stroke="#111" stroke-width="0.8"/>
<line x1="176.2659197224948" y1="492.7" x2="176.2659197224948" y2="494.8" stroke="#111" stroke-width="0.8"/>
<line x1="122.9" y1="438.3329598612474" x2="125" y2="438.3329598612474" stroke="#111" stroke-width="0.8"/>
<line x1="179.3670401387526" y1="492.7" x2="179.3670401387526" y2="494.8" stroke="#111" stroke-width="0.8"/>
<line x1="122.9" y1="435.7991599877234" x2="125" y2="435.7991599877234" stroke="#111" stroke-width="0.8"/>
<line x1="181.9008400122766" y1="492.7" x2="181.9008400122766" y2="494.8" stroke="#111" stroke-width="0.8"/>
<line x1="122.9" y1="433.65686271954377" x2="125" y2="433.65686271954377" stroke="#111" stroke-width="0.8"/>
<line x1="184.04313728045622" y1="492.7" x2="184.04313728045622" y2="494.8" stroke="#111" stroke-width="0.8"/>
<line x1="122.9" y1="431.8011204162578" x2="125" y2="431.8011204162578" stroke="#111" stroke-width="0.8"/>
<line x1="185.8988795837422" y1="492.7" x2="185.8988795837422" y2="494.8" stroke="#111" stroke-width="0.8"/>
<line x1="122.9" y1="430.1642396979416" x2="125" y2="430.1642396979416" stroke="#111" stroke-width="0.8"/>
<line x1="187.5357603020584" y1="492.7" x2="187.5357603020584" y2="494.8" stroke="#111" stroke-width="0.8"/>
<line x1="121.4" y1="428.7" x2="125" y2="428.7" stroke="#111" stroke-width="0.8"/>
<line x1="189.0" y1="492.7" x2="189.0" y2="496.3" stroke="#111" stroke-width="0.8"/>
<line x1="122.9" y1="419.0670401387526" x2="125" y2="419.0670401387526" stroke="#111" stroke-width="0.8"/>
<line x1="198.6329598612474" y1="492.7" x2="198.6329598612474" y2="494.8" stroke="#111" stroke-width="0.8"/>
<line x1="122.9" y1="413.4321198489708" x2="125" y2="413.4321198489708" stroke="#111" stroke-width="0.8"/>
<line x1="204.2678801510292" y1="492.7" x2="204.2678801510292" y2="494.8" stroke="#111" stroke-width="0.8"/>
<line x1="122.9" y1="409.4340802775052" x2="125" y2="409.4340802775052" stroke="#111" stroke-width="0.8"/>
<line x1="208.2659197224948" y1="492.7" x2="208.2659197224948" y2="494.8" stroke="#111" stroke-width="0.8"/>
<line x1="122.9" y1="406.3329598612474" x2="125" y2="406.3329598612474" stroke="#111" stroke-width="0.8"/>
<line x1="211.3670401387526" y1="492.7" x2="211.3670401387526" y2="494.8" stroke="#111" stroke-width="0.8"/>
<line x1="122.9" y1="403.7991599877234" x2="125" y2="403.7991599877234" stroke="#111" stroke-width="0.8"/>
<line x1="213.9008400122766" y1="492.7" x2="213.9008400122766" y2="494.8" stroke="#111" stroke-width="0.8"/>
<line x1="122.9" y1="401.65686271954377" x2="125" y2="401.65686271954377" stroke="#111" stroke-width="0.8"/>
<line x1="216.04313728045622" y1="492.7" x2="216.04313728045622" y2="494.8" stroke="#111" stroke-width="0.8"/>
<line x1="122.9" y1="399.8011204162578" x2="125" y2="399.8011204162578" stroke="#111" stroke-width="0.8"/>
<line x1="217.8988795837422" y1="492.7" x2="217.8988795837422" y2="494.8" stroke="#111" stroke-width="0.8"/>
<line x1="122.9" y1="398.1642396979416" x2="125" y2="398.1642396979416" stroke="#111" stroke-width="0.8"/>
<line x1="219.5357603020584" y1="492.7" x2="219.5357603020584" y2="494.8" stroke="#111" stroke-width="0.8"/>
<line x1="121.4" y1="396.7" x2="125" y2="396.7" stroke="#111" stroke-width="0.8"/>
<line x1="221.0" y1="492.7" x2="221.0" y2="496.3" stroke="#111" stroke-width="0.8"/>
<line x1="122.9" y1="387.0670401387526" x2="125" y2="387.0670401387526" stroke="#111" stroke-width="0.8"/>
<line x1="230.6329598612474" y1="492.7" x2="230.6329598612474" y2="494.8" stroke="#111" stroke-width="0.8"/>
<line x1="122.9" y1="381.4321198489708" x2="125" y2="381.4321198489708" stroke="#111" stroke-width="0.8"/>
<line x1="236.2678801510292" y1="492.7" x2="236.2678801510292" y2="494.8" stroke="#111" stroke-width="0.8"/>
<line x1="122.9" y1="377.4340802775052" x2="125" y2="377.4340802775052" stroke="#111" stroke-width="0.8"/>
<line x1="240.2659197224948" y1="492.7" x2="240.2659197224948" y2="494.8" stroke="#111" stroke-width="0.8"/>
<line x1="122.9" y1="374.3329598612474" x2="125" y2="374.3329598612474" stroke="#111" stroke-width="0.8"/>
<line x1="243.3670401387526" y1="492.7" x2="243.3670401387526" y2="494.8" stroke="#111" stroke-width="0.8"/>
<line x1="122.9" y1="371.7991599877234" x2="125" y2="371.7991599877234" stroke="#111" stroke-width="0.8"/>
<line x1="245.9008400122766" y1="492.7" x2="245.9008400122766" y2="494.8" stroke="#111" stroke-width="0.8"/>
<line x1="122.9" y1="369.65686271954377" x2="125" y2="369.65686271954377" stroke="#111" stroke-width="0.8"/>
<line x1="248.04313728045622" y1="492.7" x2="248.04313728045622" y2="494.8" stroke="#111" stroke-width="0.8"/>
<line x1="122.9" y1="367.8011204162578" x2="125" y2="367.8011204162578" stroke="#111" stroke-width="0.8"/>
<line x1="249.8988795837422" y1="492.7" x2="249.8988795837422" y2="494.8" stroke="#111" stroke-width="0.8"/>
<line x1="122.9" y1="366.1642396979416" x2="125" y2="366.1642396979416" stroke="#111" stroke-width="0.8"/>
<line x1="251.5357603020584" y1="492.7" x2="251.5357603020584" y2="494.8" stroke="#111" stroke-width="0.8"/>
<line x1="122" y1="364.7" x2="125" y2="364.7" stroke="#111" stroke-width="0.8"/>
<line x1="253" y1="492.7" x2="253" y2="495.7" stroke="#111" stroke-width="0.8"/>
<text x="121.6" y="493.3" font-size="7.1" text-anchor="end" fill="#111" stroke="#111" stroke-width="0.15">10<tspan dy="-2.6" font-size="5.5">0</tspan></text>
<text x="122.7" y="502.5" font-size="7.1" text-anchor="start" fill="#111" stroke="#111" stroke-width="0.15">10<tspan dy="-2.6" font-size="5.5">0</tspan></text>
<text x="121.6" y="461.6" font-size="7.1" text-anchor="end" fill="#111" stroke="#111" stroke-width="0.15">10<tspan dy="-2.6" font-size="5.5">1</tspan></text>
<text x="154.7" y="502.5" font-size="7.1" text-anchor="start" fill="#111" stroke="#111" stroke-width="0.15">10<tspan dy="-2.6" font-size="5.5">1</tspan></text>
<text x="121.6" y="429.9" font-size="7.1" text-anchor="end" fill="#111" stroke="#111" stroke-width="0.15">10<tspan dy="-2.6" font-size="5.5">2</tspan></text>
<text x="186.7" y="502.5" font-size="7.1" text-anchor="start" fill="#111" stroke="#111" stroke-width="0.15">10<tspan dy="-2.6" font-size="5.5">2</tspan></text>
<text x="121.6" y="398.2" font-size="7.1" text-anchor="end" fill="#111" stroke="#111" stroke-width="0.15">10<tspan dy="-2.6" font-size="5.5">3</tspan></text>
<text x="218.7" y="502.5" font-size="7.1" text-anchor="start" fill="#111" stroke="#111" stroke-width="0.15">10<tspan dy="-2.6" font-size="5.5">3</tspan></text>
<text x="121.6" y="366.5" font-size="7.1" text-anchor="end" fill="#111" stroke="#111" stroke-width="0.15">10<tspan dy="-2.6" font-size="5.5">4</tspan></text>
<text x="250.7" y="502.5" font-size="7.1" text-anchor="start" fill="#111" stroke="#111" stroke-width="0.15">10<tspan dy="-2.6" font-size="5.5">4</tspan></text>
<text x="189.7" y="513.9" font-size="8.4" text-anchor="middle" textLength="20.8" lengthAdjust="spacingAndGlyphs" stroke="#111" stroke-width="0.15" fill="#111">CFSE</text>
<text x="104.3" y="429.4" font-size="8.2" text-anchor="middle" textLength="44.5" lengthAdjust="spacingAndGlyphs" transform="rotate(-90 104.3 429.4)" stroke="#111" stroke-width="0.15" fill="#111">Background</text>
<rect x="291.2" y="364.7" width="128" height="128" fill="none" stroke="#111" stroke-width="1.1"/>
<line x1="350.4" y1="364.7" x2="350.4" y2="492.7" stroke="#000" stroke-width="1"/>
<line x1="291.2" y1="450.5" x2="419.2" y2="450.5" stroke="#000" stroke-width="1"/>
<line x1="287.59999999999997" y1="492.7" x2="291.2" y2="492.7" stroke="#111" stroke-width="0.8"/>
<line x1="291.2" y1="492.7" x2="291.2" y2="496.3" stroke="#111" stroke-width="0.8"/>
<line x1="289.09999999999997" y1="483.0670401387526" x2="291.2" y2="483.0670401387526" stroke="#111" stroke-width="0.8"/>
<line x1="300.8329598612474" y1="492.7" x2="300.8329598612474" y2="494.8" stroke="#111" stroke-width="0.8"/>
<line x1="289.09999999999997" y1="477.4321198489708" x2="291.2" y2="477.4321198489708" stroke="#111" stroke-width="0.8"/>
<line x1="306.4678801510292" y1="492.7" x2="306.4678801510292" y2="494.8" stroke="#111" stroke-width="0.8"/>
<line x1="289.09999999999997" y1="473.4340802775052" x2="291.2" y2="473.4340802775052" stroke="#111" stroke-width="0.8"/>
<line x1="310.4659197224948" y1="492.7" x2="310.4659197224948" y2="494.8" stroke="#111" stroke-width="0.8"/>
<line x1="289.09999999999997" y1="470.3329598612474" x2="291.2" y2="470.3329598612474" stroke="#111" stroke-width="0.8"/>
<line x1="313.5670401387526" y1="492.7" x2="313.5670401387526" y2="494.8" stroke="#111" stroke-width="0.8"/>
<line x1="289.09999999999997" y1="467.7991599877234" x2="291.2" y2="467.7991599877234" stroke="#111" stroke-width="0.8"/>
<line x1="316.1008400122766" y1="492.7" x2="316.1008400122766" y2="494.8" stroke="#111" stroke-width="0.8"/>
<line x1="289.09999999999997" y1="465.65686271954377" x2="291.2" y2="465.65686271954377" stroke="#111" stroke-width="0.8"/>
<line x1="318.2431372804562" y1="492.7" x2="318.2431372804562" y2="494.8" stroke="#111" stroke-width="0.8"/>
<line x1="289.09999999999997" y1="463.8011204162578" x2="291.2" y2="463.8011204162578" stroke="#111" stroke-width="0.8"/>
<line x1="320.0988795837422" y1="492.7" x2="320.0988795837422" y2="494.8" stroke="#111" stroke-width="0.8"/>
<line x1="289.09999999999997" y1="462.1642396979416" x2="291.2" y2="462.1642396979416" stroke="#111" stroke-width="0.8"/>
<line x1="321.7357603020584" y1="492.7" x2="321.7357603020584" y2="494.8" stroke="#111" stroke-width="0.8"/>
<line x1="287.59999999999997" y1="460.7" x2="291.2" y2="460.7" stroke="#111" stroke-width="0.8"/>
<line x1="323.2" y1="492.7" x2="323.2" y2="496.3" stroke="#111" stroke-width="0.8"/>
<line x1="289.09999999999997" y1="451.0670401387526" x2="291.2" y2="451.0670401387526" stroke="#111" stroke-width="0.8"/>
<line x1="332.8329598612474" y1="492.7" x2="332.8329598612474" y2="494.8" stroke="#111" stroke-width="0.8"/>
<line x1="289.09999999999997" y1="445.4321198489708" x2="291.2" y2="445.4321198489708" stroke="#111" stroke-width="0.8"/>
<line x1="338.4678801510292" y1="492.7" x2="338.4678801510292" y2="494.8" stroke="#111" stroke-width="0.8"/>
<line x1="289.09999999999997" y1="441.4340802775052" x2="291.2" y2="441.4340802775052" stroke="#111" stroke-width="0.8"/>
<line x1="342.4659197224948" y1="492.7" x2="342.4659197224948" y2="494.8" stroke="#111" stroke-width="0.8"/>
<line x1="289.09999999999997" y1="438.3329598612474" x2="291.2" y2="438.3329598612474" stroke="#111" stroke-width="0.8"/>
<line x1="345.5670401387526" y1="492.7" x2="345.5670401387526" y2="494.8" stroke="#111" stroke-width="0.8"/>
<line x1="289.09999999999997" y1="435.7991599877234" x2="291.2" y2="435.7991599877234" stroke="#111" stroke-width="0.8"/>
<line x1="348.1008400122766" y1="492.7" x2="348.1008400122766" y2="494.8" stroke="#111" stroke-width="0.8"/>
<line x1="289.09999999999997" y1="433.65686271954377" x2="291.2" y2="433.65686271954377" stroke="#111" stroke-width="0.8"/>
<line x1="350.2431372804562" y1="492.7" x2="350.2431372804562" y2="494.8" stroke="#111" stroke-width="0.8"/>
<line x1="289.09999999999997" y1="431.8011204162578" x2="291.2" y2="431.8011204162578" stroke="#111" stroke-width="0.8"/>
<line x1="352.0988795837422" y1="492.7" x2="352.0988795837422" y2="494.8" stroke="#111" stroke-width="0.8"/>
<line x1="289.09999999999997" y1="430.1642396979416" x2="291.2" y2="430.1642396979416" stroke="#111" stroke-width="0.8"/>
<line x1="353.7357603020584" y1="492.7" x2="353.7357603020584" y2="494.8" stroke="#111" stroke-width="0.8"/>
<line x1="287.59999999999997" y1="428.7" x2="291.2" y2="428.7" stroke="#111" stroke-width="0.8"/>
<line x1="355.2" y1="492.7" x2="355.2" y2="496.3" stroke="#111" stroke-width="0.8"/>
<line x1="289.09999999999997" y1="419.0670401387526" x2="291.2" y2="419.0670401387526" stroke="#111" stroke-width="0.8"/>
<line x1="364.8329598612474" y1="492.7" x2="364.8329598612474" y2="494.8" stroke="#111" stroke-width="0.8"/>
<line x1="289.09999999999997" y1="413.4321198489708" x2="291.2" y2="413.4321198489708" stroke="#111" stroke-width="0.8"/>
<line x1="370.4678801510292" y1="492.7" x2="370.4678801510292" y2="494.8" stroke="#111" stroke-width="0.8"/>
<line x1="289.09999999999997" y1="409.4340802775052" x2="291.2" y2="409.4340802775052" stroke="#111" stroke-width="0.8"/>
<line x1="374.4659197224948" y1="492.7" x2="374.4659197224948" y2="494.8" stroke="#111" stroke-width="0.8"/>
<line x1="289.09999999999997" y1="406.3329598612474" x2="291.2" y2="406.3329598612474" stroke="#111" stroke-width="0.8"/>
<line x1="377.5670401387526" y1="492.7" x2="377.5670401387526" y2="494.8" stroke="#111" stroke-width="0.8"/>
<line x1="289.09999999999997" y1="403.7991599877234" x2="291.2" y2="403.7991599877234" stroke="#111" stroke-width="0.8"/>
<line x1="380.1008400122766" y1="492.7" x2="380.1008400122766" y2="494.8" stroke="#111" stroke-width="0.8"/>
<line x1="289.09999999999997" y1="401.65686271954377" x2="291.2" y2="401.65686271954377" stroke="#111" stroke-width="0.8"/>
<line x1="382.2431372804562" y1="492.7" x2="382.2431372804562" y2="494.8" stroke="#111" stroke-width="0.8"/>
<line x1="289.09999999999997" y1="399.8011204162578" x2="291.2" y2="399.8011204162578" stroke="#111" stroke-width="0.8"/>
<line x1="384.0988795837422" y1="492.7" x2="384.0988795837422" y2="494.8" stroke="#111" stroke-width="0.8"/>
<line x1="289.09999999999997" y1="398.1642396979416" x2="291.2" y2="398.1642396979416" stroke="#111" stroke-width="0.8"/>
<line x1="385.7357603020584" y1="492.7" x2="385.7357603020584" y2="494.8" stroke="#111" stroke-width="0.8"/>
<line x1="287.59999999999997" y1="396.7" x2="291.2" y2="396.7" stroke="#111" stroke-width="0.8"/>
<line x1="387.2" y1="492.7" x2="387.2" y2="496.3" stroke="#111" stroke-width="0.8"/>
<line x1="289.09999999999997" y1="387.0670401387526" x2="291.2" y2="387.0670401387526" stroke="#111" stroke-width="0.8"/>
<line x1="396.8329598612474" y1="492.7" x2="396.8329598612474" y2="494.8" stroke="#111" stroke-width="0.8"/>
<line x1="289.09999999999997" y1="381.4321198489708" x2="291.2" y2="381.4321198489708" stroke="#111" stroke-width="0.8"/>
<line x1="402.4678801510292" y1="492.7" x2="402.4678801510292" y2="494.8" stroke="#111" stroke-width="0.8"/>
<line x1="289.09999999999997" y1="377.4340802775052" x2="291.2" y2="377.4340802775052" stroke="#111" stroke-width="0.8"/>
<line x1="406.4659197224948" y1="492.7" x2="406.4659197224948" y2="494.8" stroke="#111" stroke-width="0.8"/>
<line x1="289.09999999999997" y1="374.3329598612474" x2="291.2" y2="374.3329598612474" stroke="#111" stroke-width="0.8"/>
<line x1="409.5670401387526" y1="492.7" x2="409.5670401387526" y2="494.8" stroke="#111" stroke-width="0.8"/>
<line x1="289.09999999999997" y1="371.7991599877234" x2="291.2" y2="371.7991599877234" stroke="#111" stroke-width="0.8"/>
<line x1="412.1008400122766" y1="492.7" x2="412.1008400122766" y2="494.8" stroke="#111" stroke-width="0.8"/>
<line x1="289.09999999999997" y1="369.65686271954377" x2="291.2" y2="369.65686271954377" stroke="#111" stroke-width="0.8"/>
<line x1="414.2431372804562" y1="492.7" x2="414.2431372804562" y2="494.8" stroke="#111" stroke-width="0.8"/>
<line x1="289.09999999999997" y1="367.8011204162578" x2="291.2" y2="367.8011204162578" stroke="#111" stroke-width="0.8"/>
<line x1="416.0988795837422" y1="492.7" x2="416.0988795837422" y2="494.8" stroke="#111" stroke-width="0.8"/>
<line x1="289.09999999999997" y1="366.1642396979416" x2="291.2" y2="366.1642396979416" stroke="#111" stroke-width="0.8"/>
<line x1="417.7357603020584" y1="492.7" x2="417.7357603020584" y2="494.8" stroke="#111" stroke-width="0.8"/>
<line x1="288.2" y1="364.7" x2="291.2" y2="364.7" stroke="#111" stroke-width="0.8"/>
<line x1="419.2" y1="492.7" x2="419.2" y2="495.7" stroke="#111" stroke-width="0.8"/>
<text x="287.8" y="493.3" font-size="7.1" text-anchor="end" fill="#111" stroke="#111" stroke-width="0.15">10<tspan dy="-2.6" font-size="5.5">0</tspan></text>
<text x="288.9" y="502.5" font-size="7.1" text-anchor="start" fill="#111" stroke="#111" stroke-width="0.15">10<tspan dy="-2.6" font-size="5.5">0</tspan></text>
<text x="287.8" y="461.6" font-size="7.1" text-anchor="end" fill="#111" stroke="#111" stroke-width="0.15">10<tspan dy="-2.6" font-size="5.5">1</tspan></text>
<text x="320.9" y="502.5" font-size="7.1" text-anchor="start" fill="#111" stroke="#111" stroke-width="0.15">10<tspan dy="-2.6" font-size="5.5">1</tspan></text>
<text x="287.8" y="429.9" font-size="7.1" text-anchor="end" fill="#111" stroke="#111" stroke-width="0.15">10<tspan dy="-2.6" font-size="5.5">2</tspan></text>
<text x="352.9" y="502.5" font-size="7.1" text-anchor="start" fill="#111" stroke="#111" stroke-width="0.15">10<tspan dy="-2.6" font-size="5.5">2</tspan></text>
<text x="287.8" y="398.2" font-size="7.1" text-anchor="end" fill="#111" stroke="#111" stroke-width="0.15">10<tspan dy="-2.6" font-size="5.5">3</tspan></text>
<text x="384.9" y="502.5" font-size="7.1" text-anchor="start" fill="#111" stroke="#111" stroke-width="0.15">10<tspan dy="-2.6" font-size="5.5">3</tspan></text>
<text x="287.8" y="366.5" font-size="7.1" text-anchor="end" fill="#111" stroke="#111" stroke-width="0.15">10<tspan dy="-2.6" font-size="5.5">4</tspan></text>
<text x="416.9" y="502.5" font-size="7.1" text-anchor="start" fill="#111" stroke="#111" stroke-width="0.15">10<tspan dy="-2.6" font-size="5.5">4</tspan></text>
<text x="356.4" y="513.9" font-size="8.4" text-anchor="middle" textLength="20.8" lengthAdjust="spacingAndGlyphs" stroke="#111" stroke-width="0.15" fill="#111">CFSE</text>
<text x="269.5" y="427.6" font-size="8.2" text-anchor="middle" textLength="37.6" lengthAdjust="spacingAndGlyphs" transform="rotate(-90 269.5 427.6)" stroke="#111" stroke-width="0.15" fill="#111">L-selectin</text>
</svg>
</body></html>
